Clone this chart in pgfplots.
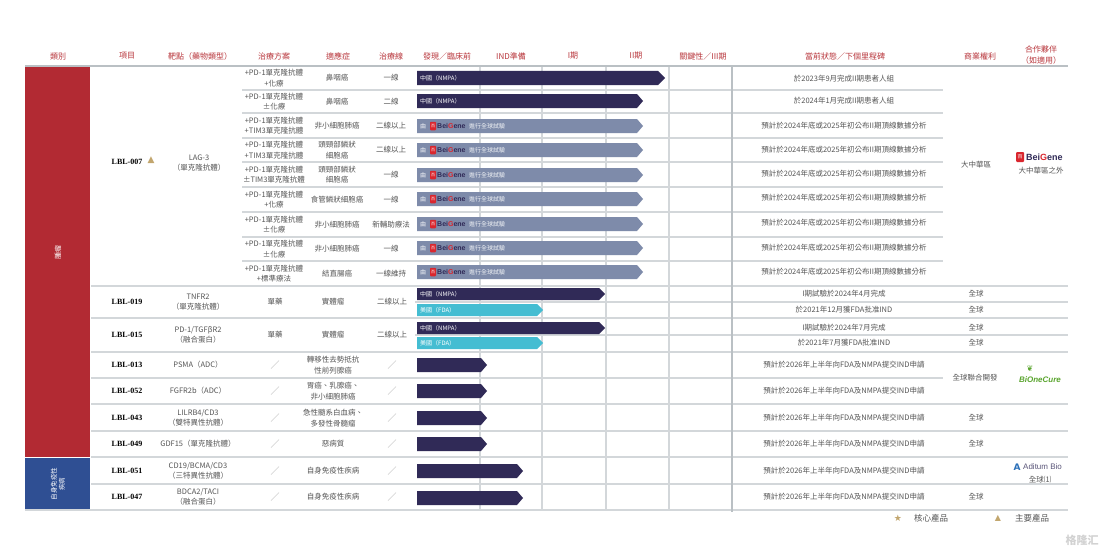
\documentclass[border=0pt]{standalone}
\usepackage{fontspec}
\usepackage{pgfplots}
\pgfplotsset{compat=1.18}
\setmainfont{Noto Sans CJK TC}
\newfontfamily\lat{Liberation Serif}
\newfontfamily\sym{DejaVu Sans}
\newfontfamily\logo{Liberation Sans}
\definecolor{hdr}{HTML}{B8353B}
\definecolor{navy}{HTML}{302A57}
\definecolor{slate}{HTML}{7E8BAA}
\definecolor{cyanb}{HTML}{44BDD2}
\definecolor{gridc}{HTML}{D3D7DA}
\definecolor{gridd}{HTML}{BAC0C4}
\definecolor{txt}{HTML}{555555}
\definecolor{redband}{HTML}{B22A33}
\definecolor{blueband}{HTML}{2F4F93}
\definecolor{gold}{HTML}{C2A66E}
\definecolor{bgred}{HTML}{D9262E}
\definecolor{bcgreen}{HTML}{5AA52E}
\definecolor{adblue}{HTML}{2A6FB8}
\newcommand\body{\fontsize{7.5}{10.5}\selectfont}
\newcommand\hd{\fontsize{8}{11}\selectfont}
\newcommand\lbl{\fontsize{8}{10}\selectfont\lat\bfseries}
\newcommand\bl{\fontsize{6}{7}\selectfont}
\begin{document}
\begin{tikzpicture}
\begin{axis}[scale only axis, width=1108pt, height=551pt,
  xmin=0, xmax=1108, ymin=0, ymax=551, y dir=reverse,
  hide axis, clip=false]
\fill[white] (0,0) rectangle (1108,551);
% ---------- bands
\fill[redband] (25,67) rectangle (90,457);
\fill[blueband] (25,458) rectangle (90,510);
\node[rotate=90, text=white, font=\fontsize{7}{8}\selectfont] at (58,252) {腫瘤};
\node[rotate=90, text=white, align=center, font=\fontsize{6.5}{8}\selectfont] at (58,484) {自身免疫性\\疾病};
% ---------- grid lines
\pgfplotsinvokeforeach{90,113,138,162,187,212,237,261}{
  \draw[gridc, line width=1.2pt] (242,#1) -- (943,#1);}
\pgfplotsinvokeforeach{286,318,352,404,431,457,484}{
  \draw[gridc, line width=1.2pt] (91,#1) -- (1068,#1);}
\draw[gridc, line width=1.2pt] (91,378) -- (943,378);
\draw[gridc, line width=1.2pt] (415,302) -- (1068,302);
\draw[gridc, line width=1.2pt] (415,335) -- (1068,335);
\draw[gridc, line width=1.2pt] (25,510) -- (1068,510);
\pgfplotsinvokeforeach{480,542,606,669}{
  \draw[gridc, line width=1.2pt] (#1,66) -- (#1,510);}
\draw[gridd, line width=1.8pt] (732,66) -- (732,512);
\draw[gridd, line width=2.5pt] (25,66) -- (1068,66);
% ---------- header
\begin{scope}[every node/.style={text=hdr, font=\hd, inner sep=0pt, align=center}]
\node at (58,56) {類別};
\node at (127,56) {項目};
\node at (200,56) {靶點（藥物類型）};
\node at (274,56) {治療方案};
\node at (338,56) {適應症};
\node at (391,56) {治療線};
\node at (447,56) {發現／臨床前};
\node at (511,56) {IND準備};
\node at (573,56) {I期};
\node at (636,56) {II期};
\node at (703,56) {關鍵性／III期};
\node at (845,56) {當前狀態／下個里程碑};
\node at (980,56) {商業權利};
\node at (1041,55) {合作夥伴\\（如適用）};
\end{scope}
% ---------- bars
\addplot[fill=navy, draw=none] coordinates {(417,71)(658,71)(665,78)(658,85)(417,85)} -- cycle;
\addplot[fill=navy, draw=none] coordinates {(417,94)(637,94)(643,101)(637,108)(417,108)} -- cycle;
\addplot[fill=slate, draw=none] coordinates {(417,119)(637,119)(643,126)(637,133)(417,133)} -- cycle;
\addplot[fill=slate, draw=none] coordinates {(417,143)(637,143)(643,150)(637,157)(417,157)} -- cycle;
\addplot[fill=slate, draw=none] coordinates {(417,168)(637,168)(643,175)(637,182)(417,182)} -- cycle;
\addplot[fill=slate, draw=none] coordinates {(417,192)(637,192)(643,199)(637,206)(417,206)} -- cycle;
\addplot[fill=slate, draw=none] coordinates {(417,217)(637,217)(643,224)(637,231)(417,231)} -- cycle;
\addplot[fill=slate, draw=none] coordinates {(417,241)(637,241)(643,248)(637,255)(417,255)} -- cycle;
\addplot[fill=slate, draw=none] coordinates {(417,265)(637,265)(643,272)(637,279)(417,279)} -- cycle;
\addplot[fill=navy, draw=none] coordinates {(417,288)(599,288)(605,294)(599,300)(417,300)} -- cycle;
\addplot[fill=cyanb, draw=none] coordinates {(417,304)(537,304)(543,310)(537,316)(417,316)} -- cycle;
\addplot[fill=navy, draw=none] coordinates {(417,322)(599,322)(605,328)(599,334)(417,334)} -- cycle;
\addplot[fill=cyanb, draw=none] coordinates {(417,337)(537,337)(543,343)(537,349)(417,349)} -- cycle;
\addplot[fill=navy, draw=none] coordinates {(417,358)(481,358)(487,365)(481,372)(417,372)} -- cycle;
\addplot[fill=navy, draw=none] coordinates {(417,384)(481,384)(487,391)(481,398)(417,398)} -- cycle;
\addplot[fill=navy, draw=none] coordinates {(417,411)(481,411)(487,418)(481,425)(417,425)} -- cycle;
\addplot[fill=navy, draw=none] coordinates {(417,437)(481,437)(487,444)(481,451)(417,451)} -- cycle;
\addplot[fill=navy, draw=none] coordinates {(417,464)(517,464)(523,471)(517,478)(417,478)} -- cycle;
\addplot[fill=navy, draw=none] coordinates {(417,491)(517,491)(523,498)(517,505)(417,505)} -- cycle;
% ---------- bar labels
\begin{scope}[every node/.style={text=white, font=\bl, inner sep=0pt, anchor=west}]
\node at (420,78) {中國（NMPA）};
\node at (420,101) {中國（NMPA）};
\node at (420,294) {中國（NMPA）};
\node at (420,310) {美國（FDA）};
\node at (420,328) {中國（NMPA）};
\node at (420,343) {美國（FDA）};
\end{scope}
\pgfplotsinvokeforeach{126,150,175,199,224,248,272}{
  \node[text=white, font=\bl, inner sep=0pt] at (423,#1) {由};
  \node[fill=bgred, rounded corners=0.8pt, minimum width=6pt, minimum height=8.5pt, inner sep=0pt, text=white, font=\fontsize{4}{4}\selectfont] at (433,#1) {百};
  \node[text=navy, font=\fontsize{7}{8}\selectfont\logo\bfseries, inner sep=0pt, anchor=west] at (437,#1) {Bei\textcolor{bgred}{G}ene};
  \node[text=white!90!slate, font=\bl, inner sep=0pt, anchor=west] at (469,#1) {進行全球試驗};
}
% ---------- LAG-3 block
\node[font=\lbl, inner sep=0pt] at (127,162) {LBL-007};
\node[text=gold, font=\fontsize{9}{10}\selectfont\sym, inner sep=0pt] at (151,160) {▲};
\begin{scope}[every node/.style={text=txt, font=\body, inner sep=0pt, align=center}]
\node at (199,163) {LAG-3\\（單克隆抗體）};
\node at (274,78) {+PD-1單克隆抗體\\+化療};
\node at (274,101.5) {+PD-1單克隆抗體\\±化療};
\node at (274,125.5) {+PD-1單克隆抗體\\+TIM3單克隆抗體};
\node at (274,150) {+PD-1單克隆抗體\\+TIM3單克隆抗體};
\node at (274,174.5) {+PD-1單克隆抗體\\±TIM3單克隆抗體};
\node at (274,199.5) {+PD-1單克隆抗體\\+化療};
\node at (274,224.5) {+PD-1單克隆抗體\\±化療};
\node at (274,249) {+PD-1單克隆抗體\\±化療};
\node at (274,273.5) {+PD-1單克隆抗體\\+標準療法};
\node at (337,78) {鼻咽癌};
\node at (337,101.5) {鼻咽癌};
\node at (337,125.5) {非小細胞肺癌};
\node at (337,150) {頭頸部鱗狀\\細胞癌};
\node at (337,174.5) {頭頸部鱗狀\\細胞癌};
\node at (337,199.5) {食管鱗狀細胞癌};
\node at (337,224.5) {非小細胞肺癌};
\node at (337,249) {非小細胞肺癌};
\node at (337,273.5) {結直腸癌};
\node at (391,78) {一線};
\node at (391,101.5) {二線};
\node at (391,125.5) {二線以上};
\node at (391,150) {二線以上};
\node at (391,174.5) {一線};
\node at (391,199.5) {一線};
\node at (391,224.5) {新輔助療法};
\node at (391,249) {一線};
\node at (391,273.5) {一線維持};
\node at (844,79) {於2023年9月完成II期患者人組};
\node at (844,101) {於2024年1月完成II期患者人組};
\node at (976,165) {大中華區};
\node at (1041,171) {大中華區之外};
\end{scope}
\pgfplotsinvokeforeach{126,150,174,198,223,248,272}{
  \node[text=txt, font=\body, inner sep=0pt] at (844,#1) {預計於2024年底或2025年初公布II期頂線數據分析};}
\node[fill=bgred, rounded corners=1pt, minimum width=8pt, minimum height=10pt, inner sep=0pt, text=white, font=\fontsize{5}{5}\selectfont] at (1020,157) {百};
\node[text=navy, font=\fontsize{9}{10}\selectfont\logo\bfseries, inner sep=0pt, anchor=west] at (1026,157) {Bei\textcolor{bgred}{G}ene};
% ---------- lower rows
\begin{scope}[every node/.style={font=\lbl, inner sep=0pt}]
\node at (127,302) {LBL-019};
\node at (127,335) {LBL-015};
\node at (127,365) {LBL-013};
\node at (127,391) {LBL-052};
\node at (127,418) {LBL-043};
\node at (127,444) {LBL-049};
\node at (127,471) {LBL-051};
\node at (127,497) {LBL-047};
\end{scope}
\begin{scope}[every node/.style={text=txt, font=\body, inner sep=0pt, align=center}]
\node at (198,302) {TNFR2\\（單克隆抗體）};
\node at (198,335) {PD-1/TGFβR2\\（融合蛋白）};
\node at (198,365) {PSMA（ADC）};
\node at (198,391) {FGFR2b（ADC）};
\node at (198,418) {LILRB4/CD3\\（雙特異性抗體）};
\node at (198,444) {GDF15（單克隆抗體）};
\node at (198,471) {CD19/BCMA/CD3\\（三特異性抗體）};
\node at (198,497) {BDCA2/TACI\\（融合蛋白）};
\node at (275,302) {單藥};
\node at (275,335) {單藥};
\node at (333,302) {實體瘤};
\node at (333,335) {實體瘤};
\node at (333,365) {轉移性去勢抵抗\\性前列腺癌};
\node at (333,391) {胃癌、乳腺癌、\\非小細胞肺癌};
\node at (333,418) {急性髓系白血病、\\多發性骨髓瘤};
\node at (333,444) {惡病質};
\node at (333,471) {自身免疫性疾病};
\node at (333,497) {自身免疫性疾病};
\node at (392,302) {二線以上};
\node at (392,335) {二線以上};
\node at (844,294) {I期試驗於2024年4月完成};
\node at (844,310) {於2021年12月獲FDA批准IND};
\node at (844,328) {I期試驗於2024年7月完成};
\node at (844,343) {於2021年7月獲FDA批准IND};
\node at (976,294) {全球};
\node at (976,310) {全球};
\node at (976,328) {全球};
\node at (976,343) {全球};
\node at (975,378) {全球聯合開發};
\node at (976,418) {全球};
\node at (976,444) {全球};
\node at (976,497) {全球};
\node at (1040,480) {全球⑴};
\end{scope}
\pgfplotsinvokeforeach{365,391,418,444,471,497}{
  \node[text=txt, font=\body, inner sep=0pt] at (844,#1) {預計於2026年上半年向FDA及NMPA提交IND申請};
  \node[text=gray!70, font=\fontsize{9}{10}\selectfont, inner sep=0pt] at (275,#1) {／};
  \node[text=gray!70, font=\fontsize{9}{10}\selectfont, inner sep=0pt] at (392,#1) {／};}
% partner logos
\node[text=bcgreen, font=\fontsize{8}{9}\selectfont\logo\bfseries\itshape, inner sep=0pt] at (1040,380) {BiOneCure};
\node[text=bcgreen, font=\fontsize{8}{9}\selectfont\sym, inner sep=0pt] at (1030,369) {❦};
\node[text=adblue, font=\fontsize{9}{9}\selectfont\sym\bfseries, inner sep=0pt] at (1017,467) {A};
\node[text=navy!80, font=\fontsize{8}{9}\selectfont\logo, inner sep=0pt, anchor=west] at (1023,467) {Aditum Bio};
% ---------- legend
\node[text=gold, font=\fontsize{9}{10}\selectfont\sym, inner sep=0pt] at (898,518) {★};
\node[text=txt, font=\fontsize{8.5}{10}\selectfont, inner sep=0pt] at (931,518) {核心產品};
\node[text=gold, font=\fontsize{8}{10}\selectfont\sym, inner sep=0pt] at (998,518) {▲};
\node[text=txt, font=\fontsize{8.5}{10}\selectfont, inner sep=0pt] at (1032,518) {主要產品};
\node[text=gray!35, font=\fontsize{11}{12}\selectfont\bfseries, inner sep=0pt] at (1082,540) {格隆汇};
\path (0,0) rectangle (1108,551);
\end{axis}
\end{tikzpicture}
\end{document}
